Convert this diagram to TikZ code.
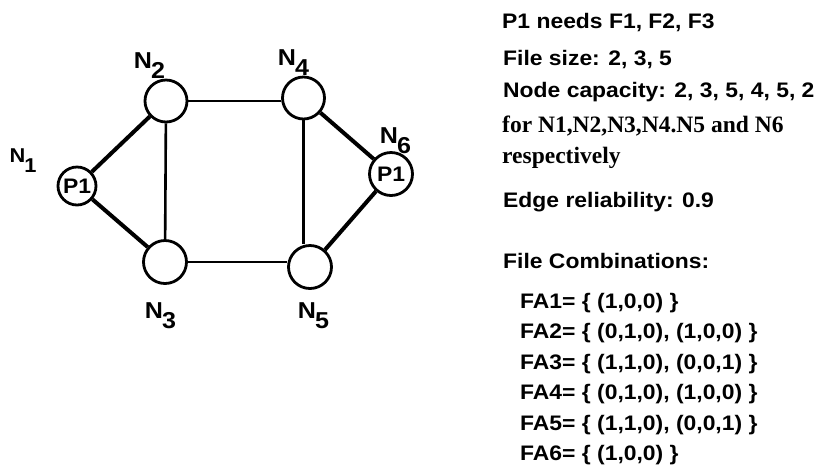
\documentclass[tikz,border=0pt]{standalone}
\usepackage{fontspec}
\setmainfont{Liberation Sans Bold}[FakeStretch=1.09]
\newfontfamily\serifF{Liberation Serif Bold}[FakeStretch=1.0]
\newcommand{\NL}[1]{N\kern-1pt\raisebox{-10pt}{#1}}
\begin{document}
\begin{tikzpicture}[x=1pt,y=-1pt,
  site/.style={circle,draw,line width=2.8pt,inner sep=0pt,minimum size=42pt,
    font=\fontsize{21}{21}\selectfont},
  heavy/.style={line width=4pt},
  light/.style={line width=2.6pt},
  lab/.style={inner sep=0pt,font=\fontsize{23}{23}\selectfont},
  txt/.style={anchor=base west,inner sep=0pt,font=\fontsize{21}{21}\selectfont},
  stxt/.style={anchor=base west,inner sep=0pt,font=\serifF\fontsize{23.5}{23.5}\selectfont}]
\useasboundingbox (0,0) rectangle (816,467);
% sites
\node[site,minimum size=38pt] (N1) at (77,186) {P1};
\node[site] (N2) at (166,101) {};
\node[site] (N4) at (303.5,98) {};
\node[site,minimum size=43pt] (N6) at (391,174) {P1};
\node[site,minimum size=43pt] (N3) at (165,262) {};
\node[site,minimum size=43pt] (N5) at (310,267) {};
% labels
\node[lab,font=\fontsize{20}{20}\selectfont] (L1) at (23,161) {\NL{1}};
\node[lab] (L2) at (149.5,66) {\NL{2}};
\node[lab] (L4) at (293.5,63) {\NL{4}};
\node[lab] (L6) at (395.5,141) {\NL{6}};
\node[lab] (L3) at (160.5,316) {\NL{3}};
\node[lab] (L5) at (313.5,316) {\NL{5}};
% edges
\draw[heavy] (N1) -- (N2);
\draw[heavy] (N1) -- (N3);
\draw[heavy] (N4) -- (N6);
\draw[heavy] (N6) -- (N5);
\draw[light] (N2) -- (N3);
\draw[light] (N4.south) -- (N4.south |- N5.north);
\draw[light] (N2.east) -- (N2.east -| N4.west);
\draw[light] (N3.east) -- (N3.east -| N5.west);
% text
\node[txt] (t1) at (502,28) {P1 needs F1, F2, F3};
\node[txt] (t2) at (503,65) {File size: 2, 3, 5};
\node[txt] (t3) at (503,97) {Node capacity: 2, 3, 5, 4, 5, 2};
\node[stxt] (t4) at (502,132) {for N1,N2,N3,N4.N5 and N6};
\node[stxt] (t5) at (502,163) {respectively};
\node[txt] (t6) at (503,207) {Edge reliability: 0.9};
\node[txt] (t7) at (503,268) {File Combinations:};
\node[txt] (f1) at (520,308) {FA1= \{ (1,0,0) \}};
\node[txt] (f2) at (520,338.5) {FA2= \{ (0,1,0), (1,0,0) \}};
\node[txt] (f3) at (520,369) {FA3= \{ (1,1,0), (0,0,1) \}};
\node[txt] (f4) at (520,399.5) {FA4= \{ (0,1,0), (1,0,0) \}};
\node[txt] (f5) at (520,430) {FA5= \{ (1,1,0), (0,0,1) \}};
\node[txt] (f6) at (520,460) {FA6= \{ (1,0,0) \}};
\end{tikzpicture}
\end{document}
